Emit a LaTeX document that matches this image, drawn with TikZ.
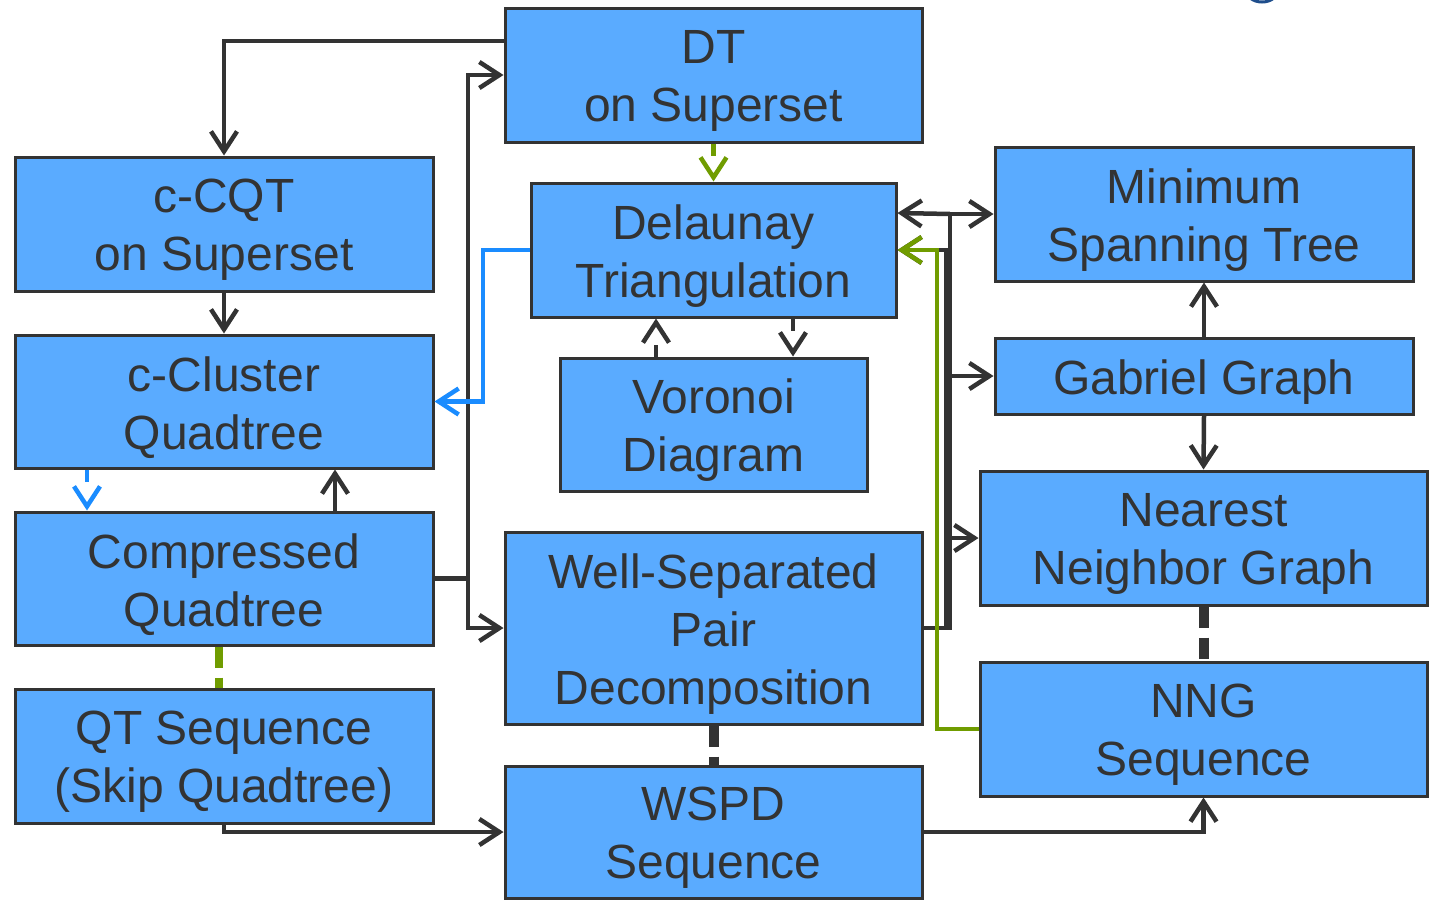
\documentclass[tikz,border=0pt]{standalone}
\usepackage{fontspec}
\setmainfont{Liberation Sans}
\usetikzlibrary{arrows.meta}
\definecolor{boxfill}{HTML}{5AABFF}
\definecolor{ink}{HTML}{333333}
\definecolor{linkblue}{HTML}{1A8CFF}
\definecolor{linkgreen}{HTML}{709C00}
\definecolor{navy}{HTML}{1F4E8C}
\tikzset{
  box/.style={draw=ink, fill=boxfill, line width=3pt, inner sep=0pt},
  boxtext/.style={text=ink, align=center, inner sep=0pt, yshift=-6pt,
    font=\fontsize{48}{58}\selectfont},
  tipx/.style={-{Straight Barb[length=20pt,width=26pt]}},
  arr/.style={draw=ink, line width=4.5pt, tipx},
  barr/.style={draw=linkblue, line width=4.5pt, tipx},
  garr/.style={draw=linkgreen, line width=4.5pt, tipx},
  shortdash/.style={dash pattern=on 12pt off 40pt},
  thickdash/.style={line width=10pt, dash pattern=on 21pt off 10pt},
}
\begin{document}
\begin{tikzpicture}[x=1pt,y=-1pt]
\useasboundingbox (0,0) rectangle (1429,900);

% small arc at the top edge
\begin{scope}
  \clip (0,0) rectangle (1429,900);
  \draw[navy, line width=3pt] (1262,-10) ellipse (16pt and 12pt);
\end{scope}

% boxes
\node[box, minimum width=417pt, minimum height=134pt,
  label={[boxtext]center:{DT\\on Superset}}] (dts) at (713.5,75) {};
\node[box, minimum width=418pt, minimum height=134pt,
  label={[boxtext]center:{c-CQT\\on Superset}}] (ccqt) at (224,224) {};
\node[box, minimum width=418pt, minimum height=133pt,
  label={[boxtext]center:{c-Cluster\\Quadtree}}] (ccq) at (224,401.5) {};
\node[box, minimum width=418pt, minimum height=133pt,
  label={[boxtext]center:{Compressed\\Quadtree}}] (cq) at (224,578.5) {};
\node[box, minimum width=418pt, minimum height=134pt,
  label={[boxtext]center:{QT Sequence\\(Skip Quadtree)}}] (qts) at (224,756) {};
\node[box, minimum width=365pt, minimum height=134pt,
  label={[boxtext]center:{Delaunay\\Triangulation}}] (del) at (713.5,250) {};
\node[box, minimum width=307pt, minimum height=133pt,
  label={[boxtext]center:{Voronoi\\Diagram}}] (vor) at (713.5,424.5) {};
\node[box, minimum width=417pt, minimum height=192pt,
  label={[boxtext]center:{Well-Separated\\Pair\\Decomposition}}] (wspd) at (713.5,628) {};
\node[box, minimum width=417pt, minimum height=132pt,
  label={[boxtext]center:{WSPD\\Sequence}}] (wseq) at (713.5,832) {};
\node[box, minimum width=418pt, minimum height=134pt,
  label={[boxtext]center:{Minimum\\Spanning Tree}}] (mst) at (1204,214) {};
\node[box, minimum width=418pt, minimum height=76pt,
  label={[boxtext]center:{Gabriel Graph}}] (gab) at (1204,376) {};
\node[box, minimum width=447pt, minimum height=134pt,
  label={[boxtext]center:{Nearest\\Neighbor Graph}}] (nng) at (1203.5,538) {};
\node[box, minimum width=447pt, minimum height=134pt,
  label={[boxtext]center:{NNG\\Sequence}}] (nseq) at (1203.5,729) {};

% bus lines
\coordinate (lbus) at (468,0);
\coordinate (bbus) at (483,0);
\coordinate (rbus) at (950,0);
\coordinate (rbus2) at (946,0);
\coordinate (gbus) at (937,0);

% left column
\draw[arr] ([yshift=34pt]dts.west) -| (ccqt.north);
\draw[arr] (ccqt.south) -- (ccq.north);
\draw[arr] (cq.east) -- (cq.east -| lbus) |- (dts.west);
\draw[arr] (cq.east -| lbus) |- (wspd.west);
\draw[barr] (del.west) -| (bbus |- ccq.east) -- (ccq.east);
\draw[barr, shortdash] ([xshift=-137pt]ccq.south) -- ([xshift=-137pt]cq.north);
\draw[arr] ([xshift=111pt]cq.north) -- ([xshift=111pt]ccq.south);
\draw[draw=linkgreen, line width=8pt, dash pattern=on 21pt off 10pt]
  ([xshift=-5pt]cq.south) -- ([xshift=-5pt]qts.north);
\draw[arr] (qts.south) |- (wseq.west);

% middle column
\draw[garr, shortdash] (dts.south) -- (del.north);
\draw[arr, shortdash] ([xshift=-57.5pt]vor.north) -- ([xshift=-57.5pt]del.south);
\draw[arr, shortdash] ([xshift=79.5pt]del.south) -- ([xshift=79.5pt]vor.north);
\draw[draw=ink, thickdash] (wspd.south) -- (wseq.north);

% right bus from the decomposition
\draw[arr] (wspd.east) -| (rbus |- mst.west) -- (mst.west);
\draw[arr] (rbus |- mst.west) -- ([yshift=37pt]del.east);
\draw[arr] (rbus |- gab.west) -- (gab.west);
\draw[arr] (rbus |- nng.west) -- (nng.west);
\draw[arr] (wspd.east) -| (rbus2 |- del.east) -- (del.east);

% right column
\draw[arr] (gab.north) -- (mst.south);
\draw[arr] (gab.south) -- (nng.north);
\draw[draw=ink, thickdash] (nng.south) -- (nseq.north);
\draw[garr] (nseq.west) -| (gbus |- del.east) -- (del.east);
\draw[arr] (wseq.east) -| (nseq.south);
\end{tikzpicture}
\end{document}
